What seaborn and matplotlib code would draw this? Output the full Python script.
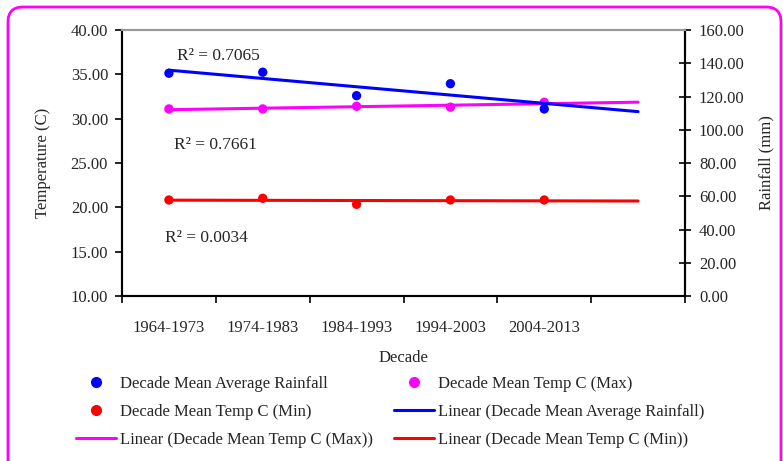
import numpy as np
import pandas as pd
import matplotlib
matplotlib.use("Agg")
import matplotlib.pyplot as plt
import seaborn as sns
from matplotlib.lines import Line2D
from matplotlib.patches import FancyBboxPatch
from matplotlib.transforms import IdentityTransform

# ---- data ----
decades = ["1964-1973", "1974-1983", "1984-1993", "1994-2003", "2004-2013"]
rainfall = [134.0, 134.6, 120.5, 127.7, 112.5]
temp_max = [31.1, 31.1, 31.4, 31.3, 31.85]
temp_min = [20.83, 21.02, 20.34, 20.83, 20.83]
r2_labels = ["R² = 0.7065", "R² = 0.7661", "R² = 0.0034"]

sns.set_style("ticks")
plt.rcParams["font.family"] = ["Liberation Serif", "DejaVu Serif"]

BLUE = "#0000FF"
MAGENTA = "#FF00FF"
RED = "#FF0000"

x = np.arange(1, len(decades) + 1)
df = pd.DataFrame({"x": x, "rain": rainfall, "tmax": temp_max, "tmin": temp_min})

# linear trends, forecast one period forward
xt = np.array([1, len(decades) + 1])
def trend(y):
    p = np.polyfit(x, y, 1)
    return pd.DataFrame({"x": xt, "y": np.polyval(p, xt)})

fig = plt.figure(figsize=(7.83, 4.61), dpi=100)
ax = fig.add_axes([122/783, 1 - 296/461, (685-122)/783, (296-30)/461])
ax2 = ax.twinx()

lw = 2.2
sns.lineplot(data=trend(temp_max), x="x", y="y", ax=ax, color=MAGENTA, lw=lw, legend=False)
sns.lineplot(data=trend(temp_min), x="x", y="y", ax=ax, color=RED, lw=lw, legend=False)
sns.scatterplot(data=df, x="x", y="tmax", ax=ax, color=MAGENTA, s=45, edgecolor="none", zorder=5, legend=False)
sns.scatterplot(data=df, x="x", y="tmin", ax=ax, color=RED, s=45, edgecolor="none", zorder=5, legend=False)
sns.lineplot(data=trend(rainfall), x="x", y="y", ax=ax2, color=BLUE, lw=lw, legend=False)
sns.scatterplot(data=df, x="x", y="rain", ax=ax2, color=BLUE, s=45, edgecolor="none", zorder=5, legend=False)

ax.set_xlim(0.5, 6.5)
ax.set_ylim(10, 40)
ax2.set_ylim(0, 160)
ax.set_yticks(np.arange(10, 41, 5))
ax.set_yticklabels([f"{v:.2f}" for v in np.arange(10, 41, 5)])
ax2.set_yticks(np.arange(0, 161, 20))
ax2.set_yticklabels([f"{v:.2f}" for v in np.arange(0, 161, 20)])

ax.set_xticks(x)
ax.set_xticklabels(decades)
ax.set_xticks(np.arange(0.5, 6.6, 1), minor=True)
ax.tick_params(axis="x", which="major", length=0, pad=17, labelsize=12)
ax.tick_params(axis="x", which="minor", length=5, width=1.2, direction="out", color="black")
ax.tick_params(axis="y", length=5, width=1.2, direction="out", pad=5, labelsize=12, color="black")
ax2.tick_params(axis="y", length=8, width=1.2, direction="inout", pad=6, labelsize=12, color="black")
ax2.tick_params(axis="x", length=0)

for a in (ax, ax2):
    for s in a.spines.values():
        s.set_linewidth(1.5)
        s.set_color("black")
    a.spines["top"].set_color("#999999")
    a.spines["top"].set_linewidth(1.5)

ax.set_xlabel("Decade", fontsize=12, labelpad=10)
ax.set_ylabel("Temperature (C)", fontsize=12, labelpad=14)
ax2.set_ylabel("Rainfall (mm)", fontsize=12, labelpad=10)

# R^2 annotations
ax.text(1.085, 37.07, r2_labels[0], fontsize=12.5, va="center", ha="left")
ax.text(1.053, 27.03, r2_labels[1], fontsize=12.5, va="center", ha="left")
ax.text(0.957, 16.54, r2_labels[2], fontsize=12.5, va="center", ha="left")

# legend
ms = 7
handles = [
    Line2D([], [], ls="none", marker="o", ms=ms, color=BLUE),
    Line2D([], [], ls="none", marker="o", ms=ms, color=RED),
    Line2D([], [], color=MAGENTA, lw=lw),
    Line2D([], [], ls="none", marker="o", ms=ms, color=MAGENTA),
    Line2D([], [], color=BLUE, lw=lw),
    Line2D([], [], color=RED, lw=lw),
]
labels = [
    "Decade Mean Average Rainfall",
    "Decade Mean Temp C (Min)",
    "Linear (Decade Mean Temp C (Max))",
    "Decade Mean Temp C (Max)",
    "Linear (Decade Mean Average Rainfall)",
    "Linear (Decade Mean Temp C (Min))",
]
fig.legend(handles, labels, ncol=2, loc="upper left", bbox_to_anchor=(76/783, 1 - 376/461),
           frameon=False, fontsize=12, handlelength=2.4, handletextpad=0.25,
           columnspacing=1.25, labelspacing=0.72, borderpad=0, borderaxespad=0)

# rounded magenta border
border = FancyBboxPatch((8, -20), 773, 461 - 7 + 20, boxstyle="round,pad=0,rounding_size=15",
                        transform=IdentityTransform(), fill=False, edgecolor=MAGENTA, lw=2.0)
fig.patches.append(border)

fig.savefig("out.png", dpi=100)
